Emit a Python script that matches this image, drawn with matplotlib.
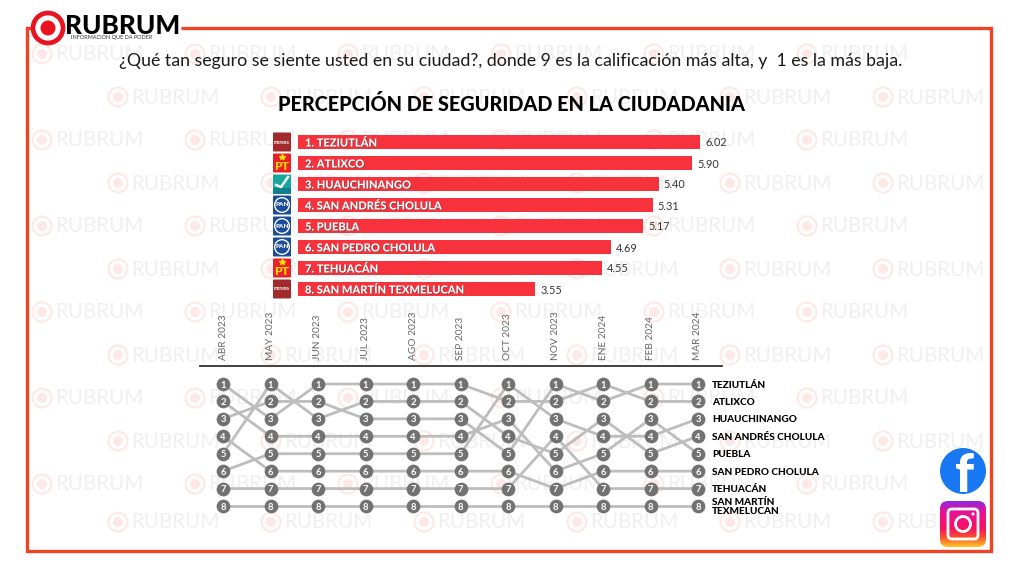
import numpy as np
import matplotlib
matplotlib.use("Agg")
import matplotlib.pyplot as plt
import matplotlib.patheffects as pe
from matplotlib.colors import LinearSegmentedColormap
from matplotlib.patches import Circle, FancyBboxPatch, Rectangle

plt.rcParams['font.family'] = ['Lato', 'DejaVu Sans']

# Top bars
bar_labels = ["1. TEZIUTLÁN", "2. ATLIXCO", "3. HUAUCHINANGO", "4. SAN ANDRÉS CHOLULA",
              "5. PUEBLA", "6. SAN PEDRO CHOLULA", "7. TEHUACÁN", "8. SAN MARTÍN TEXMELUCAN"]
bar_values = [6.02, 5.90, 5.40, 5.31, 5.17, 4.69, 4.55, 3.55]
bar_parties = ["morena", "pt", "compromiso", "pan", "pan", "pan", "pt", "morena"]

# Ranking by month
months = ["ABR 2023", "MAY 2023", "JUN 2023", "JUL 2023", "AGO 2023", "SEP 2023",
          "OCT 2023", "NOV 2023", "ENE 2024", "FEB 2024", "MAR 2024"]
teziutlan = [3, 2, 2, 3, 3, 3, 5, 1, 2, 1, 1]
atlixco = [1, 3, 1, 1, 1, 1, 2, 2, 1, 2, 2]
huauchinango = [6, 5, 5, 5, 5, 5, 1, 3, 4, 4, 3]
san_andres = [5, 1, 3, 2, 2, 2, 4, 5, 3, 5, 4]
puebla = [2, 4, 4, 4, 4, 4, 3, 6, 5, 3, 5]
san_pedro = [4, 6, 6, 6, 6, 6, 6, 7, 6, 6, 6]
tehuacan = [7, 7, 7, 7, 7, 7, 7, 4, 7, 7, 7]
san_martin = [8, 8, 8, 8, 8, 8, 8, 8, 8, 8, 8]
rank_series = [teziutlan, atlixco, huauchinango, san_andres, puebla, san_pedro, tehuacan, san_martin]
rank_names = ["TEZIUTLÁN", "ATLIXCO", "HUAUCHINANGO", "SAN ANDRÉS CHOLULA", "PUEBLA",
              "SAN PEDRO CHOLULA", "TEHUACÁN", "SAN MARTÍN\nTEXMELUCAN"]

W, H = 1024, 576
BORDER = "#ee4423"
RED = "#f8323c"
GRAY_LINE = "#bdbdbd"
GRAY_DOT = "#727272"


def px_axes(fig, left, top, right, bottom):
    """Axes placed by reference pixels."""
    return fig.add_axes([left / W, 1 - bottom / H, (right - left) / W, (bottom - top) / H])


fig = plt.figure(figsize=(10.24, 5.76), dpi=100, facecolor="white")

# Page layer in pixel coordinates: watermark, frame, logos
bg = fig.add_axes([0, 0, 1, 1])
bg.set_xlim(0, W)
bg.set_ylim(H, 0)
bg.axis("off")

# Watermark
wm_rows = [54, 97, 140, 183, 226, 269, 312, 355, 398, 441, 484, 522]
for i, wy in enumerate(wm_rows):
    start = 42 if i % 2 == 0 else 118
    for k in range(6):
        wx = start + k * 153
        bg.add_patch(Circle((wx, wy), 9.5, fc="none", ec="#fde8e5", lw=1.5))
        bg.add_patch(Circle((wx, wy), 5, fc="#fde8e5", ec="none"))
        bg.text(wx + 13, wy + 0.5, "RUBRUM", fontsize=14.8, color="#f1efef", va="center", ha="left")

# Frame, open where the logo sits
bg.plot([181, 991, 991, 27, 27, 33], [28, 28, 551, 551, 28, 28], color=BORDER, lw=2.4,
        solid_joinstyle="miter", solid_capstyle="butt")

# Rubrum logo
bg.add_patch(Circle((48, 28), 15, fc="white", ec="#e8141f", lw=3.4, zorder=5))
bg.add_patch(Circle((48, 28), 7.5, fc="#e8141f", ec="none", zorder=6))
bg.text(65, 26, "RUBRUM", fontsize=18.8, fontweight="black", color="black", va="center", zorder=6)
bg.text(71, 38, "INFORMACION QUE DA PODER", fontsize=4.0, color="#333333", va="center", zorder=6)

bg.text(511, 61, "¿Qué tan seguro se siente usted en su ciudad?, donde 9 es la calificación más alta, y  1 es la más baja.",
        fontsize=12.8, color="#1a1a1a", ha="center", va="center")
bg.text(512, 104, "PERCEPCIÓN DE SEGURIDAD EN LA CIUDADANIA", fontsize=14.3, fontweight="black",
        color="black", ha="center", va="center")


def party_logo(kind, cy):
    x0, width, height = 273, 18, 19
    y0 = cy - height / 2
    colors = {"morena": "#a32a2c", "pt": "#e8202a", "compromiso": "#14a79c", "pan": "#1c4c9c"}
    bg.add_patch(FancyBboxPatch((x0 + 1, y0 + 1), width - 2, height - 2, boxstyle="round,pad=1",
                                fc=colors[kind], ec="none", zorder=4))
    if kind == "pt":
        bg.text(x0 + width / 2, cy + 3.5, "PT", fontsize=8.8, fontweight="black", color="#ffdd00",
                ha="center", va="center", zorder=5)
        bg.plot([x0 + width / 2], [cy - 6], marker="*", ms=4, color="#ffdd00", zorder=5)
    elif kind == "morena":
        bg.text(x0 + width / 2, cy, "morena", fontsize=3.4, fontweight="bold", color="white",
                ha="center", va="center", zorder=5)
    elif kind == "pan":
        bg.add_patch(Circle((x0 + width / 2, cy), 8, fc="white", ec="none", zorder=5))
        bg.add_patch(Circle((x0 + width / 2, cy), 6.6, fc="#1c4c9c", ec="none", zorder=5))
        bg.text(x0 + width / 2, cy, "PAN", fontsize=4.6, fontweight="black", color="white",
                ha="center", va="center", zorder=6)
    else:
        bg.add_patch(Rectangle((x0, cy + 4), width, 5.5, fc="#0f7f8c", ec="none", zorder=5))
        bg.plot([x0 + 3, x0 + 8, x0 + 15], [cy + 1, cy + 3, cy - 7], color="white", lw=1.8, zorder=6)


# Social icons
bg.add_patch(Circle((963, 471), 23, fc="#1877f2", ec="none", zorder=5))
fb_clip = Circle((963, 471), 23, transform=bg.transData)
fb_text = bg.text(965, 476, "f", fontsize=38, fontweight="black", color="white", ha="center", va="center", zorder=6)
fb_text.set_clip_path(fb_clip)

ig_cmap = LinearSegmentedColormap.from_list("ig", ["#8a2be0", "#e0139c", "#f0127f", "#f5125f", "#f9542d", "#fdc42a"])
ig_grad = np.linspace(0, 1, 64).reshape(-1, 1)
ig_box = FancyBboxPatch((948, 509), 30, 30, boxstyle="round,pad=8", fc="none", ec="none",
                        transform=bg.transData)
bg.add_patch(ig_box)
ig_img = bg.imshow(ig_grad, cmap=ig_cmap, extent=(940, 986, 547, 501), aspect="auto", zorder=5)
ig_img.set_clip_path(ig_box)
bg.set_xlim(0, W)
bg.set_ylim(H, 0)
bg.add_patch(FancyBboxPatch((952, 513), 22, 22, boxstyle="round,pad=4", fc="none", ec="white", lw=2, zorder=6))
bg.add_patch(Circle((963, 524), 7.5, fc="none", ec="white", lw=2, zorder=6))
bg.add_patch(Circle((973, 514), 1.6, fc="white", ec="none", zorder=6))

# Bars
ax = px_axes(fig, 298, 131.5, 730, 299.5)
ax.patch.set_alpha(0)
y_pos = np.arange(1, len(bar_values) + 1)
ax.barh(y_pos, bar_values, height=0.62, color=RED)
ax.set_xlim(0, 432 / 66.8)
ax.set_ylim(8.5, 0.5)
ax.axis("off")
shadow = [pe.withSimplePatchShadow(offset=(0.6, -0.6), shadow_rgbFace="#555555", alpha=0.7)]
for y, label, value, party in zip(y_pos, bar_labels, bar_values, bar_parties):
    ax.annotate(label, (0, y), xytext=(7, 0), textcoords="offset pixels", color="white",
                fontsize=8.0, fontweight="black", va="center_baseline", path_effects=shadow)
    ax.annotate(f"{value:.2f}", (value, y), xytext=(5, 0), textcoords="offset pixels",
                color="#333333", fontsize=7.8, va="center_baseline")
    party_logo(party, 142 + (y - 1) * 21)

# Bump chart
ax2 = px_axes(fig, 200, 366, 722, 522)
ax2.patch.set_alpha(0)
x_pos = np.arange(len(months))
for ranks in rank_series:
    ax2.plot(x_pos, ranks, color=GRAY_LINE, lw=2.0, solid_capstyle="round", zorder=2)
    ax2.scatter(x_pos, ranks, s=98, color=GRAY_DOT, zorder=3, linewidths=0)
    for xi, r in zip(x_pos, ranks):
        ax2.text(xi, r, str(r), color="white", fontsize=6.8, fontweight="bold",
                 ha="center", va="center_baseline", zorder=4)
ax2.set_xlim(-23 / 47.5, 10 + 24 / 47.5)
ax2.set_ylim(1 + 138 / 17.43, 1 - 18 / 17.43)
for side in ["left", "right", "bottom"]:
    ax2.spines[side].set_visible(False)
ax2.spines["top"].set_linewidth(1.3)
ax2.spines["top"].set_color("#333333")
ax2.xaxis.tick_top()
ax2.set_xticks(x_pos)
ax2.set_xticklabels(months, rotation=90, fontsize=7.3, color="#666666")
ax2.tick_params(axis="x", length=0, pad=4)
ax2.set_yticks([])
for final_rank, name in zip([s[-1] for s in rank_series], rank_names):
    ax2.annotate(name, (x_pos[-1], final_rank), xytext=(14, 0), textcoords="offset pixels",
                 fontsize=7.2, fontweight="black", color="black", va="center_baseline",
                 annotation_clip=False, linespacing=1.05)

fig.savefig("out.png", dpi=100)
